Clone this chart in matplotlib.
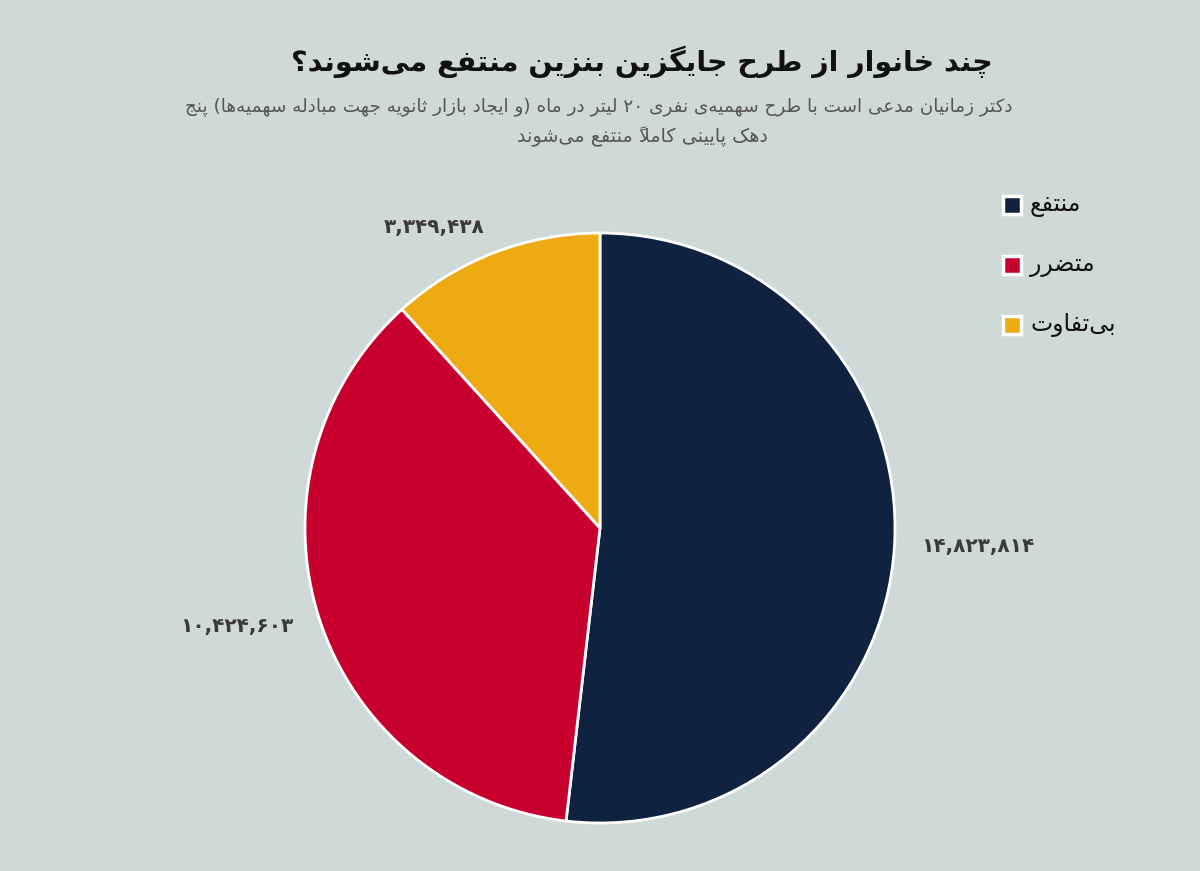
import matplotlib
matplotlib.use("Agg")
import matplotlib.pyplot as plt

# ---------------- data ----------------
categories = ["منتفع", "متضرر", "بی‌تفاوت"]
values = [14823814, 10424603, 3349438]
value_labels = ["۱۴,۸۲۳,۸۱۴", "۱۰,۴۲۴,۶۰۳", "۳,۳۴۹,۴۳۸"]
colors = ["#0f2341", "#c8002d", "#eeaa12"]
title = "چند خانوار از طرح جایگزین بنزین منتفع می‌شوند؟"
subtitle_lines = [
    "دکتر زمانیان مدعی است با طرح سهمیه‌ی نفری ۲۰ لیتر در ماه (و ایجاد بازار ثانویه جهت مبادله سهمیه‌ها) پنج",
    "دهک پایینی کاملاً منتفع می‌شوند",
]

# ---------------- simple Arabic/Persian shaping ----------------
FORMS = {
    '\u0627': ('\uFE8D', '\uFE8E', None, None),
    '\u0622': ('\uFE81', '\uFE82', None, None),
    '\u0623': ('\uFE83', '\uFE84', None, None),
    '\u0625': ('\uFE87', '\uFE88', None, None),
    '\u0628': ('\uFE8F', '\uFE90', '\uFE91', '\uFE92'),
    '\u067E': ('\uFB56', '\uFB57', '\uFB58', '\uFB59'),
    '\u062A': ('\uFE95', '\uFE96', '\uFE97', '\uFE98'),
    '\u062B': ('\uFE99', '\uFE9A', '\uFE9B', '\uFE9C'),
    '\u062C': ('\uFE9D', '\uFE9E', '\uFE9F', '\uFEA0'),
    '\u0686': ('\uFB7A', '\uFB7B', '\uFB7C', '\uFB7D'),
    '\u062D': ('\uFEA1', '\uFEA2', '\uFEA3', '\uFEA4'),
    '\u062E': ('\uFEA5', '\uFEA6', '\uFEA7', '\uFEA8'),
    '\u062F': ('\uFEA9', '\uFEAA', None, None),
    '\u0630': ('\uFEAB', '\uFEAC', None, None),
    '\u0631': ('\uFEAD', '\uFEAE', None, None),
    '\u0632': ('\uFEAF', '\uFEB0', None, None),
    '\u0698': ('\uFB8A', '\uFB8B', None, None),
    '\u0633': ('\uFEB1', '\uFEB2', '\uFEB3', '\uFEB4'),
    '\u0634': ('\uFEB5', '\uFEB6', '\uFEB7', '\uFEB8'),
    '\u0635': ('\uFEB9', '\uFEBA', '\uFEBB', '\uFEBC'),
    '\u0636': ('\uFEBD', '\uFEBE', '\uFEBF', '\uFEC0'),
    '\u0637': ('\uFEC1', '\uFEC2', '\uFEC3', '\uFEC4'),
    '\u0638': ('\uFEC5', '\uFEC6', '\uFEC7', '\uFEC8'),
    '\u0639': ('\uFEC9', '\uFECA', '\uFECB', '\uFECC'),
    '\u063A': ('\uFECD', '\uFECE', '\uFECF', '\uFED0'),
    '\u0641': ('\uFED1', '\uFED2', '\uFED3', '\uFED4'),
    '\u0642': ('\uFED5', '\uFED6', '\uFED7', '\uFED8'),
    '\u06A9': ('\uFB8E', '\uFB8F', '\uFB90', '\uFB91'),
    '\u0643': ('\uFED9', '\uFEDA', '\uFEDB', '\uFEDC'),
    '\u06AF': ('\uFB92', '\uFB93', '\uFB94', '\uFB95'),
    '\u0644': ('\uFEDD', '\uFEDE', '\uFEDF', '\uFEE0'),
    '\u0645': ('\uFEE1', '\uFEE2', '\uFEE3', '\uFEE4'),
    '\u0646': ('\uFEE5', '\uFEE6', '\uFEE7', '\uFEE8'),
    '\u0647': ('\uFEE9', '\uFEEA', '\uFEEB', '\uFEEC'),
    '\u0648': ('\uFEED', '\uFEEE', None, None),
    '\u06CC': ('\uFBFC', '\uFBFD', '\uFBFE', '\uFBFF'),
    '\u064A': ('\uFEF1', '\uFEF2', '\uFEF3', '\uFEF4'),
    '\u0626': ('\uFE89', '\uFE8A', '\uFE8B', '\uFE8C'),
}
LAM_ALEF = {'\u0627': ('\uFEFB', '\uFEFC'), '\u0622': ('\uFEF5', '\uFEF6'),
            '\u0623': ('\uFEF7', '\uFEF8'), '\u0625': ('\uFEF9', '\uFEFA')}


def is_mark(ch):
    return '\u064B' <= ch <= '\u065F' or ch == '\u0670'


def shape(text):
    chars = list(text)
    n = len(chars)
    out = []  # list of clusters; marks are put before their base (visual LTR)

    def prev_letter(i):
        j = i - 1
        while j >= 0 and is_mark(chars[j]):
            j -= 1
        return chars[j] if j >= 0 else None

    def next_index(i):
        j = i + 1
        while j < n and is_mark(chars[j]):
            j += 1
        return j if j < n else None

    i = 0
    skip = set()
    while i < n:
        c = chars[i]
        if i in skip:
            i += 1
            continue
        if is_mark(c):
            if out:
                out[-1] = c + out[-1]
            i += 1
            continue
        if c == '\u200C':
            i += 1
            continue
        if c in FORMS:
            p = prev_letter(i)
            pj = p is not None and p in FORMS and FORMS[p][2] is not None
            ni = next_index(i)
            nx = chars[ni] if ni is not None else None
            if c == '\u0644' and nx in LAM_ALEF:
                out.append(LAM_ALEF[nx][1] if pj else LAM_ALEF[nx][0])
                skip.add(ni)
                i += 1
                continue
            nj = FORMS[c][2] is not None and nx is not None and nx in FORMS
            iso, fin, ini, med = FORMS[c]
            if pj and nj:
                g = med
            elif pj:
                g = fin
            elif nj:
                g = ini
            else:
                g = iso
            out.append(g)
        else:
            out.append(c)
        i += 1
    return out


def rtl(text):
    clusters = shape(text)
    digits = set('0123456789\u06F0\u06F1\u06F2\u06F3\u06F4\u06F5\u06F6\u06F7\u06F8\u06F9')
    tokens = []
    for cl in clusters:
        if cl[-1] in digits and tokens and tokens[-1][0] == 'd':
            tokens[-1][1].append(cl)
        elif cl[-1] in digits:
            tokens.append(['d', [cl]])
        else:
            tokens.append(['c', [cl]])
    mirror = {'(': ')', ')': '(', '[': ']', ']': '['}
    res = []
    for kind, cls in reversed(tokens):
        if kind == 'd':
            res.append(''.join(cls))
        else:
            res.append(''.join(mirror.get(x, x) for x in cls))
    return ''.join(res)


# ---------------- figure ----------------
BG = "#cfd9d8"
plt.rcParams['font.family'] = ['DejaVu Sans']
fig = plt.figure(figsize=(12, 8.71), dpi=100)
fig.patch.set_facecolor(BG)

W, H = 1200.0, 871.0
cx, cy, r = 600.0, 528.0, 295.0
ax = fig.add_axes([(cx - r) / W, (H - cy - r) / H, 2 * r / W, 2 * r / H])
ax.set_facecolor(BG)

wedges, texts = ax.pie(
    values, colors=colors, startangle=90, counterclock=False, radius=1.0,
    labels=value_labels, labeldistance=1.09,
    wedgeprops=dict(edgecolor="white", linewidth=2),
    textprops=dict(fontsize=14.5, fontweight="bold", color="#3a3a3a"),
)
ax.set_xlim(-1, 1)
ax.set_ylim(-1, 1)
ax.set_aspect("equal")
ax.axis("off")

# title & subtitle
fig.text(642 / W, 1 - 62 / H, rtl(title), ha="center", va="center",
         fontsize=20.5, fontweight="bold", color="#111111")
fig.text(599 / W, 1 - 107 / H, rtl(subtitle_lines[0]), ha="center", va="center",
         fontsize=13.2, color="#555555")
fig.text(642 / W, 1 - 137 / H, rtl(subtitle_lines[1]), ha="center", va="center",
         fontsize=13.8, color="#555555")

# legend (manual, RTL style: swatch left of label)
leg_y = [205, 265, 325]
for cat, col, y in zip(categories, colors, leg_y):
    fig.patches.append(plt.Rectangle(((1003) / W, 1 - (y + 9) / H), 18 / W, 18 / H,
                                     transform=fig.transFigure, facecolor=col,
                                     edgecolor="white", linewidth=2.5, figure=fig))
    fig.text(1030 / W, 1 - y / H, rtl(cat), ha="left", va="center",
             fontsize=17, color="#111111")

fig.savefig("out.png", dpi=100, facecolor=BG)
